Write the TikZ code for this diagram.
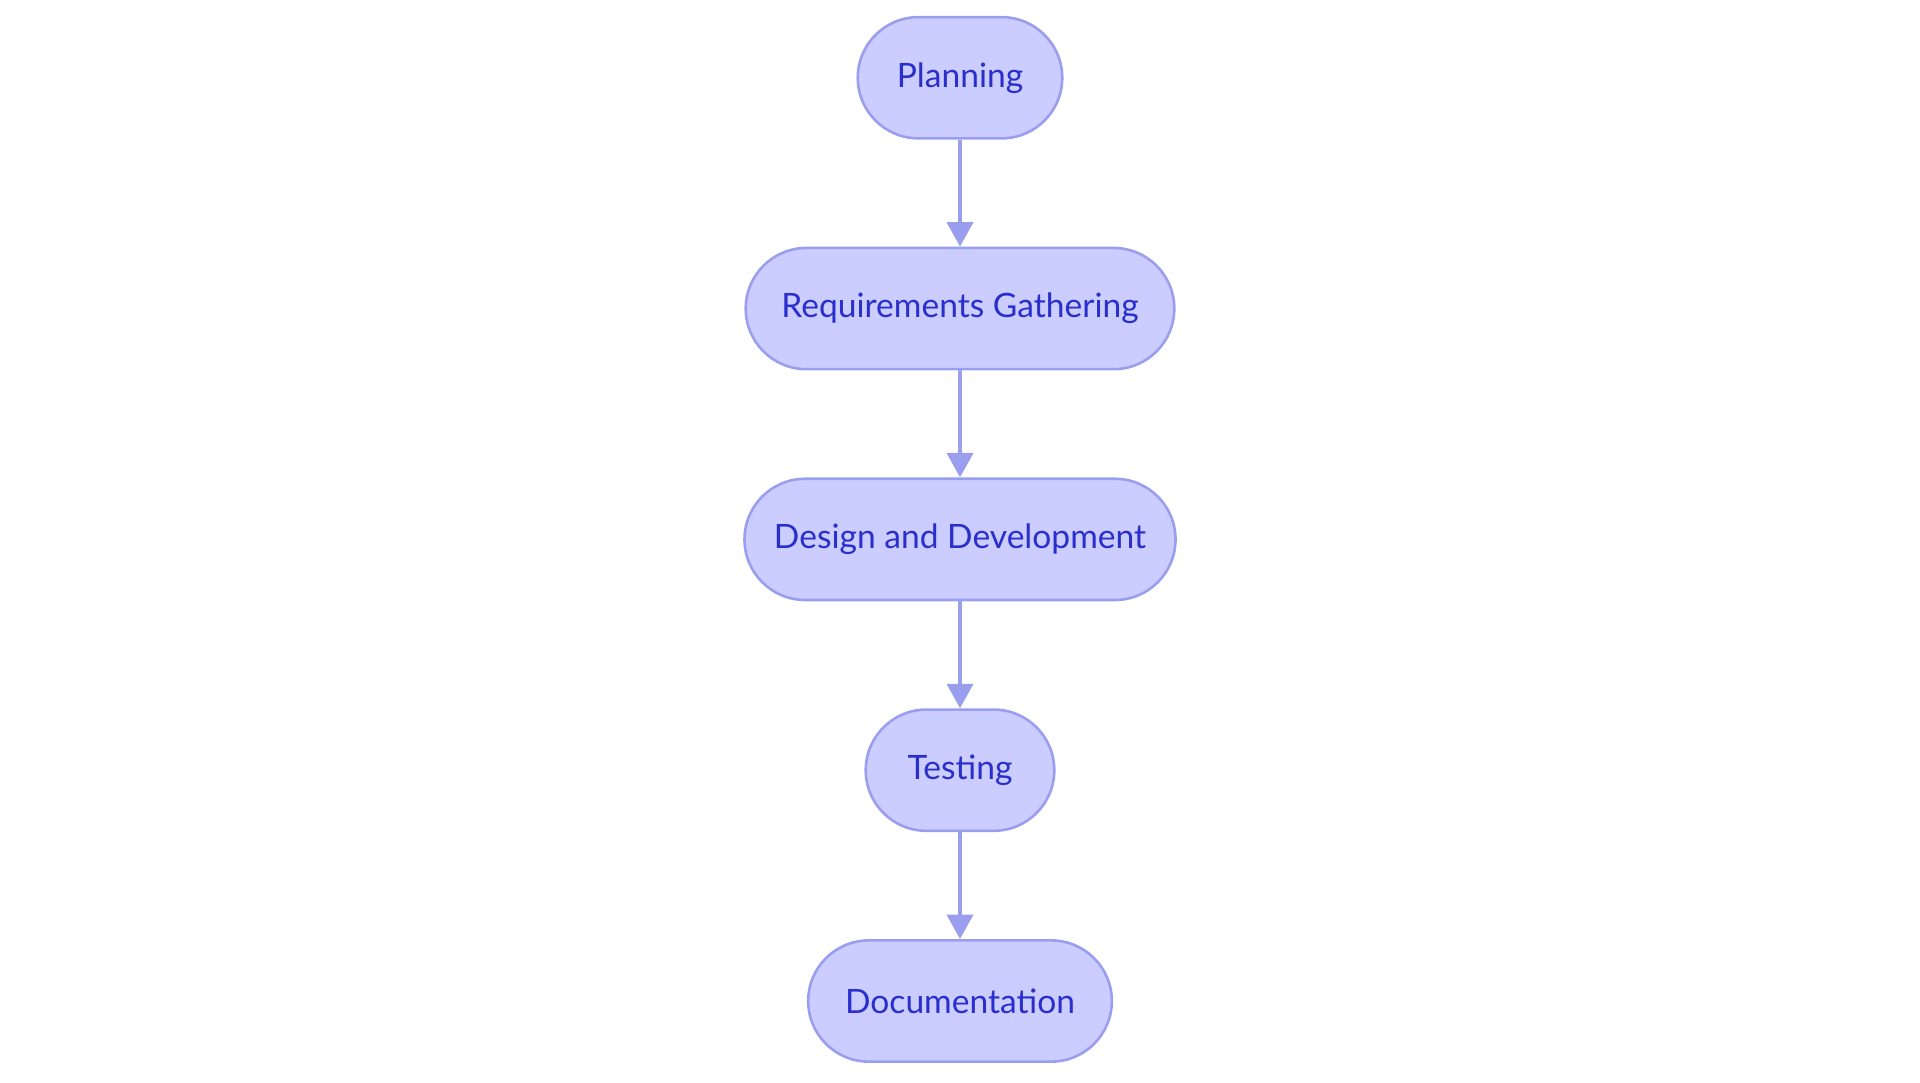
\documentclass[tikz,border=0pt]{standalone}
\usepackage{fontspec}
\setmainfont{Lato}
\usetikzlibrary{arrows.meta}
\definecolor{boxfill}{HTML}{CBCCFF}
\definecolor{boxline}{HTML}{9A9EEE}
\definecolor{boxtext}{HTML}{2A2FCC}
\begin{document}
\begin{tikzpicture}[thick]
        %
        % `stage' is used for the rounded boxes.
        % `flow' is used for the arrows between them.
        \tikzstyle{stage} = [draw=boxline,fill=boxfill,text=boxtext,line width=0.6pt,
            rounded corners=0.495cm,minimum height=0.99cm,inner sep=0pt,font=\fontsize{7.8}{9}\selectfont]
        \tikzstyle{flow} = [draw=boxline,line width=1.1pt,-{Triangle[length=0.2cm,width=0.21cm]}]
        %
        \useasboundingbox (0,0) rectangle (15.68,-8.84);
        % Stages
        \node[stage,minimum width=1.67cm] (plan) at (7.84,-0.635) {Planning};
        \node[stage,minimum width=3.5cm] (req) at (7.84,-2.52) {Requirements Gathering};
        \node[stage,minimum width=3.52cm] (dev) at (7.84,-4.405) {Design and Development};
        \node[stage,minimum width=1.54cm] (test) at (7.84,-6.29) {Testing};
        \node[stage,minimum width=2.48cm] (doc) at (7.84,-8.175) {Documentation};
        %
        % Arrows
        \draw[flow] (plan) -- (req);
        \draw[flow] (req) -- (dev);
        \draw[flow] (dev) -- (test);
        \draw[flow] (test) -- (doc);
        %
\end{tikzpicture}
\end{document}
